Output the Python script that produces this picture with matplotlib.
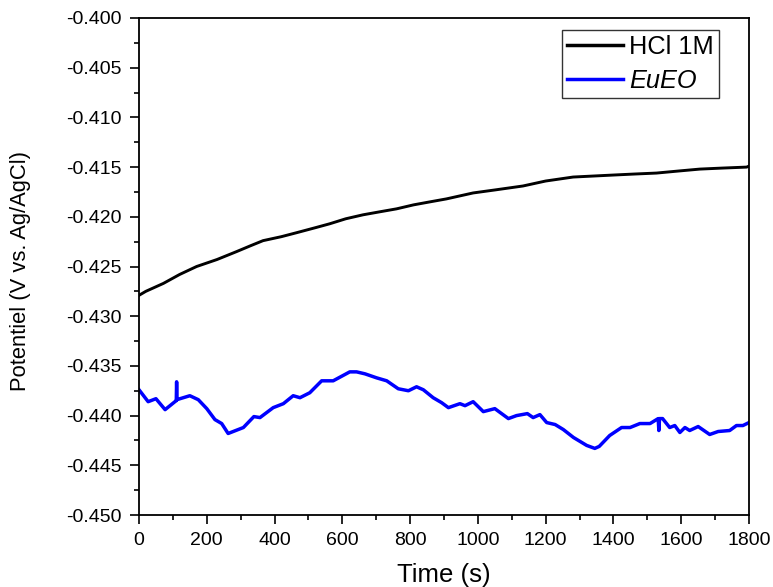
import matplotlib
matplotlib.use("Agg")
import matplotlib.pyplot as plt
from matplotlib.ticker import MultipleLocator, FormatStrFormatter

plt.rcParams['font.family'] = ['Liberation Sans', 'DejaVu Sans']

# HCl 1M series
hcl_t = [0, 20, 72, 120, 170, 230, 288, 330, 366, 420, 465, 520, 563, 610, 661, 710,
         760, 810, 858, 907, 986, 1050, 1133, 1200, 1281, 1340, 1399, 1460, 1527,
         1590, 1655, 1720, 1793, 1800]
hcl_v = [-0.4279, -0.4275, -0.4267, -0.4258, -0.4250, -0.4243, -0.4235, -0.4229,
         -0.4224, -0.4220, -0.4216, -0.4211, -0.4207, -0.4202, -0.4198, -0.4195,
         -0.4192, -0.4188, -0.4185, -0.4182, -0.4176, -0.4173, -0.4169, -0.4164,
         -0.4160, -0.4159, -0.4158, -0.4157, -0.4156, -0.4154, -0.4152, -0.4151,
         -0.4150, -0.4149]

# EuEO series
eu_t = [0, 27, 50, 77, 106, 110, 111, 112, 121, 150, 175, 200, 224, 244, 263, 308,
        339, 357, 396, 426, 455, 475, 504, 539, 573, 622, 642, 667, 701, 731, 765,
        795, 819, 839, 868, 893, 913, 947, 962, 986, 1016, 1050, 1090, 1114, 1146,
        1163, 1183, 1203, 1228, 1252, 1282, 1321, 1345, 1358, 1389, 1424, 1449,
        1478, 1508, 1532, 1534, 1536, 1545, 1566, 1581, 1596, 1611, 1625, 1650,
        1684, 1709, 1743, 1763, 1782, 1800]
eu_v = [-0.4374, -0.4386, -0.4383, -0.4394, -0.4386, -0.4385, -0.4366, -0.4384,
        -0.4383, -0.4380, -0.4384, -0.4393, -0.4404, -0.4408, -0.4418, -0.4412,
        -0.4401, -0.4402, -0.4392, -0.4388, -0.4380, -0.4382, -0.4377, -0.4365,
        -0.4365, -0.4356, -0.4356, -0.4358, -0.4362, -0.4365, -0.4373, -0.4375,
        -0.4371, -0.4374, -0.4382, -0.4387, -0.4392, -0.4388, -0.4390, -0.4386,
        -0.4396, -0.4393, -0.4403, -0.4400, -0.4398, -0.4402, -0.4399, -0.4407,
        -0.4409, -0.4414, -0.4422, -0.4430, -0.4433, -0.4431, -0.4420, -0.4412,
        -0.4412, -0.4408, -0.4408, -0.4403, -0.4415, -0.4403, -0.4403, -0.4412,
        -0.4410, -0.4417, -0.4412, -0.4415, -0.4411, -0.4419, -0.4416, -0.4415,
        -0.4410, -0.4410, -0.4407]

fig = plt.figure(figsize=(7.73, 5.87), dpi=100)
ax = fig.add_axes([139/773, 72/587, 610/773, 497/587])

ax.plot(hcl_t, hcl_v, color='black', lw=2.1, label='HCl 1M')
ax.plot(eu_t, eu_v, color='#0000ff', lw=2.5, label='EuEO')

ax.set_xlim(0, 1800)
ax.set_ylim(-0.450, -0.400)
ax.xaxis.set_major_locator(MultipleLocator(200))
ax.xaxis.set_minor_locator(MultipleLocator(100))
ax.yaxis.set_major_locator(MultipleLocator(0.005))
ax.yaxis.set_minor_locator(MultipleLocator(0.0025))
ax.yaxis.set_major_formatter(FormatStrFormatter('%.3f'))

ax.tick_params(which='major', direction='out', length=6.5, width=1.2, labelsize=14)
ax.tick_params(which='minor', direction='out', length=3.3, width=1.2)
ax.tick_params(axis='y', which='major', pad=6)
ax.tick_params(axis='x', which='major', pad=5.5)
for s in ax.spines.values():
    s.set_linewidth(1.3)

ax.set_xlabel('Time (s)', fontsize=18.5)
ax.set_ylabel('Potentiel (V vs. Ag/AgCl)', fontsize=15.8)
ax.xaxis.set_label_coords(0.5, -0.097)
ax.yaxis.set_label_coords(-0.177, 0.491)

leg = ax.legend(loc='upper right', bbox_to_anchor=(0.951, 0.976), fontsize=18.3,
                frameon=True, fancybox=False, handlelength=2.2, borderpad=0.2,
                labelspacing=0.4, handletextpad=0.25, borderaxespad=0.0)
leg.get_frame().set_edgecolor('black')
leg.get_frame().set_linewidth(1.0)
leg.get_texts()[1].set_fontstyle('italic')
for line in leg.get_lines():
    line.set_linewidth(2.5)

fig.savefig('out.png', dpi=100)
